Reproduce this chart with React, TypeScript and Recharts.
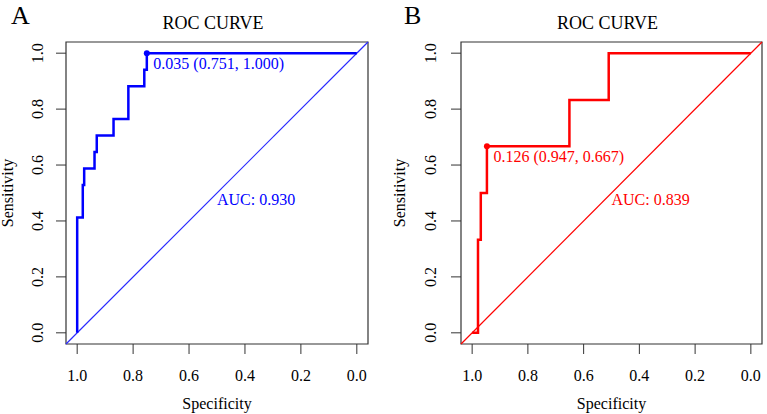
import React from "react";
import { ComposedChart, Line, Scatter, XAxis, YAxis, ReferenceLine, ReferenceArea } from "recharts";

// axis ticks (both panels)
const TICKS = [0, 0.2, 0.4, 0.6, 0.8, 1.0];

// panel A: ROC coordinates (specificity, sensitivity)
const SPEC_A = [1, 1, 0.98, 0.98, 0.975, 0.975, 0.938, 0.938, 0.93, 0.93, 0.87, 0.87, 0.817, 0.817, 0.76, 0.76, 0.751, 0.751, 0];
const SENS_A = [0, 0.412, 0.412, 0.529, 0.529, 0.588, 0.588, 0.647, 0.647, 0.706, 0.706, 0.765, 0.765, 0.882, 0.882, 0.941, 0.941, 1, 1];
const BEST_A = { spec: 0.751, sens: 1.0, thres: 0.035 };
const AUC_A = 0.93;

// panel B
const SPEC_B = [1, 0.979, 0.979, 0.969, 0.969, 0.947, 0.947, 0.651, 0.651, 0.51, 0.51, 0];
const SENS_B = [0, 0, 0.333, 0.333, 0.5, 0.5, 0.667, 0.667, 0.833, 0.833, 1, 1];
const BEST_B = { spec: 0.947, sens: 0.667, thres: 0.126 };
const AUC_B = 0.839;

const FONT = '"Liberation Serif", "Times New Roman", serif';
const INK = "#333";
const LO = -0.04;
const HI = 1.04;

type PanelProps = {
  letter: string;
  color: string;
  diagColor: string;
  spec: number[];
  sens: number[];
  best: { spec: number; sens: number; thres: number };
  auc: number;
  width: number;
  yAxisWidth: number;
  right: number;
  yTickMargin: number;
  yTitleGap: number;
  letterX: number;
};

const RocPanel: React.FC<PanelProps> = (p) => {
  const rows = p.spec.map((s, i) => ({ spec: s, sens: p.sens[i] }));
  const boxLeft = p.yAxisWidth;
  const boxRight = p.width - p.right;
  const boxMid = (boxLeft + boxRight) / 2;
  const bestLabel = `${p.best.thres.toFixed(3)} (${p.best.spec.toFixed(3)}, ${p.best.sens.toFixed(3)})`;

  return (
    <ComposedChart width={p.width} height={414} margin={{ top: 42, right: p.right, bottom: 0, left: 0 }}>
      <text x={p.letterX} y={24} fontSize={26} fontFamily={FONT} fill="#000">{p.letter}</text>
      <text x={boxMid - 4} y={29} fontSize={18} fontFamily={FONT} fill="#000" textAnchor="middle">ROC CURVE</text>
      <XAxis
        dataKey="spec"
        type="number"
        domain={[LO, HI]}
        reversed
        ticks={TICKS}
        allowDataOverflow
        axisLine={false}
        tickSize={10}
        tickMargin={21}
        height={70}
        stroke={INK}
        tick={(t: any) => (
          <text x={t.x} y={t.y} dy="0.35em" textAnchor="middle" fontSize={16} fontFamily={FONT} fill="#000">
            {Number(t.payload.value).toFixed(1)}
          </text>
        )}
        label={(l: any) => (
          <text x={l.viewBox.x + l.viewBox.width / 2} y={l.viewBox.y + 59} dy="0.35em" textAnchor="middle" fontSize={16} fontFamily={FONT} fill="#000">
            Specificity
          </text>
        )}
      />
      <YAxis
        dataKey="sens"
        type="number"
        domain={[LO, HI]}
        ticks={TICKS}
        allowDataOverflow
        axisLine={false}
        tickSize={10}
        tickMargin={p.yTickMargin}
        width={p.yAxisWidth}
        stroke={INK}
        tick={(t: any) => (
          <text x={t.x} y={t.y} transform={`rotate(-90 ${t.x} ${t.y})`} textAnchor="middle" fontSize={16} fontFamily={FONT} fill="#000">
            {Number(t.payload.value).toFixed(1)}
          </text>
        )}
        label={(l: any) => {
          const x = boxLeft - p.yTitleGap;
          const y = l.viewBox.y + l.viewBox.height / 2;
          return (
            <text x={x} y={y} transform={`rotate(-90 ${x} ${y})`} textAnchor="middle" fontSize={16} fontFamily={FONT} fill="#000">
              Sensitivity
            </text>
          );
        }}
      />
      <ReferenceLine
        segment={[{ x: HI, y: LO }, { x: LO, y: HI }]}
        stroke={p.diagColor}
        strokeWidth={1.2}
        ifOverflow="visible"
      />
      <Line data={rows} dataKey="sens" type="linear" stroke={p.color} strokeWidth={2.5} dot={false} isAnimationActive={false} />
      <Scatter
        data={[p.best]}
        dataKey="sens"
        isAnimationActive={false}
        shape={(s: any) => (
          <g>
            <circle cx={s.cx} cy={s.cy} r={3} fill={p.color} />
            <text x={s.cx + 6.5} y={s.cy + 10} dominantBaseline="central" fontSize={16} fontFamily={FONT} fill={p.color}>
              {bestLabel}
            </text>
          </g>
        )}
      />
      <Scatter
        data={[{ spec: 0.5, sens: 0.475 }]}
        dataKey="sens"
        isAnimationActive={false}
        shape={(s: any) => (
          <text x={s.cx} y={s.cy} dominantBaseline="central" fontSize={16} fontFamily={FONT} fill={p.color}>
            {`AUC: ${p.auc.toFixed(3)}`}
          </text>
        )}
      />
      <ReferenceArea x1={LO} x2={HI} y1={LO} y2={HI} fill="none" stroke={INK} strokeWidth={1.2} ifOverflow="visible" />
    </ComposedChart>
  );
};

export default function App() {
  return (
    <div style={{ position: "absolute", left: 0, top: 0, width: 767, height: 414, background: "#fff", display: "flex" }}>
      <RocPanel
        letter="A"
        color="#0000FF"
        diagColor="#2a2aff"
        spec={SPEC_A}
        sens={SENS_A}
        best={BEST_A}
        auc={AUC_A}
        width={383}
        yAxisWidth={66}
        right={15}
        yTickMargin={13}
        yTitleGap={53}
        letterX={11}
      />
      <RocPanel
        letter="B"
        color="#FF0000"
        diagColor="#FF0000"
        spec={SPEC_B}
        sens={SENS_B}
        best={BEST_B}
        auc={AUC_B}
        width={384}
        yAxisWidth={78}
        right={5}
        yTickMargin={15}
        yTitleGap={56}
        letterX={21}
      />
    </div>
  );
}
